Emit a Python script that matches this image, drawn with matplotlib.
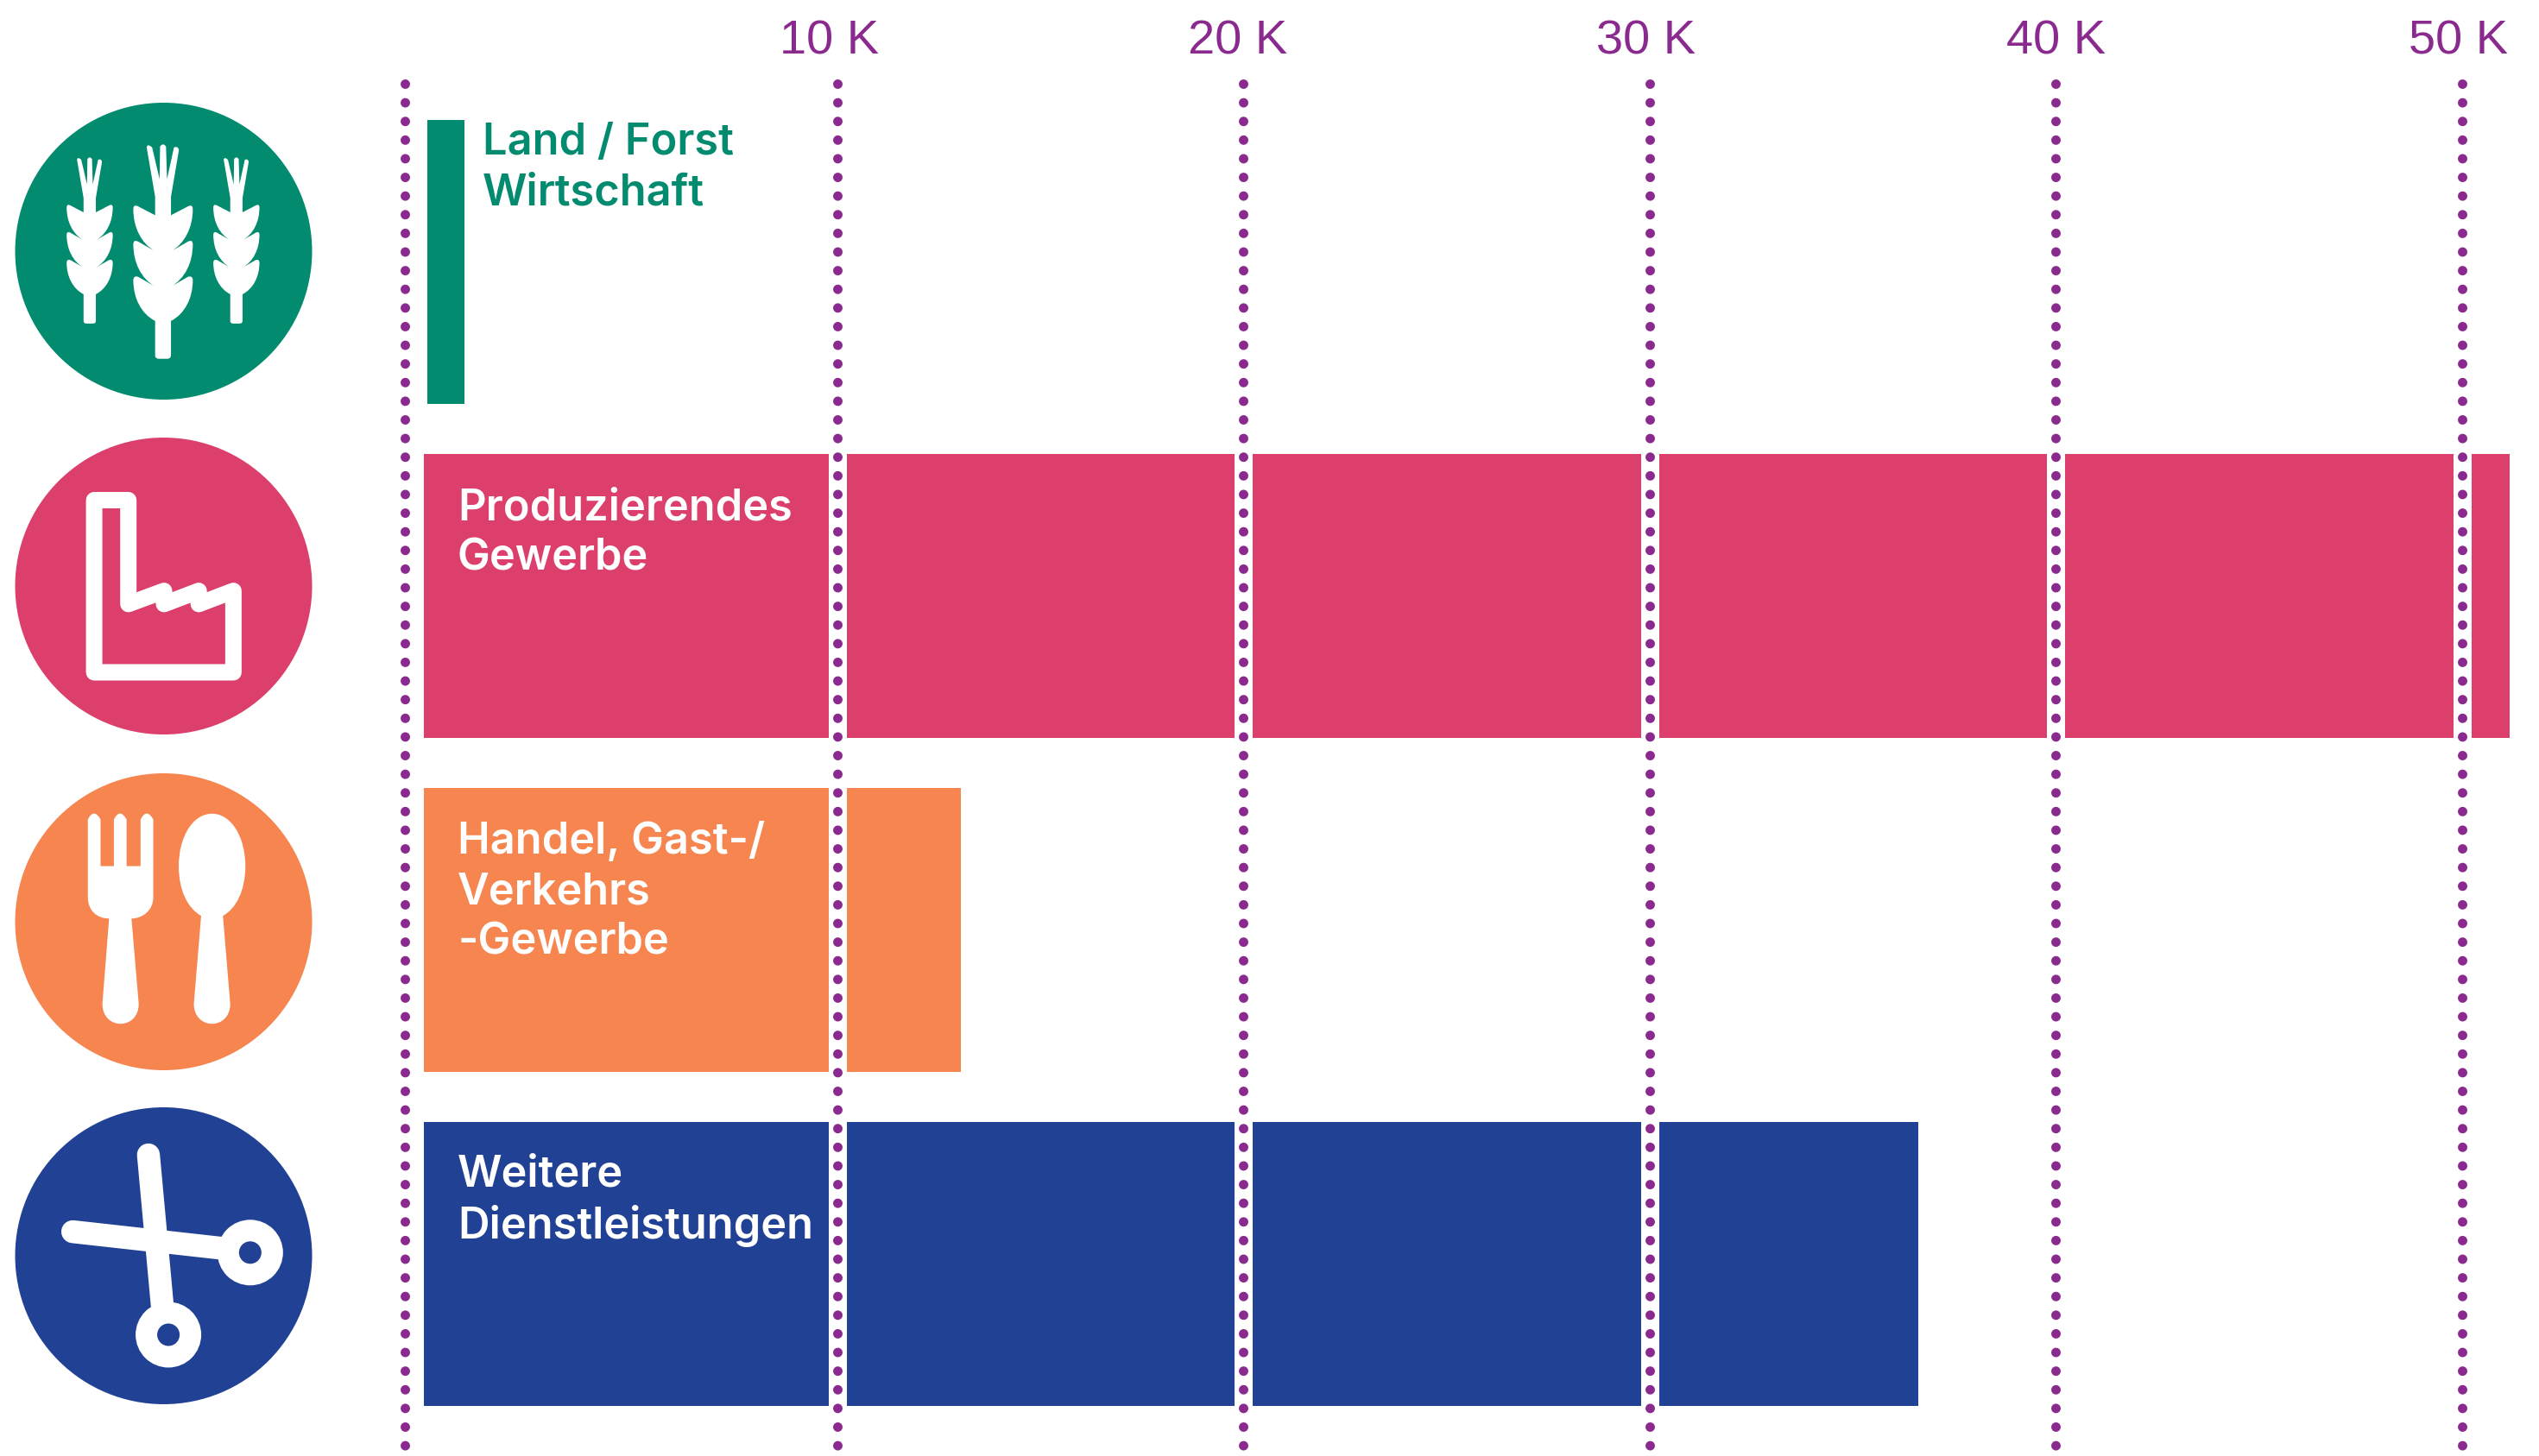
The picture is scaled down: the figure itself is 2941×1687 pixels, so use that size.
import matplotlib
matplotlib.use("Agg")
import matplotlib.pyplot as plt
from matplotlib.path import Path
from matplotlib.patches import PathPatch, Circle
from matplotlib.transforms import ScaledTranslation

# ---- data ----
categories = ["Land / Forst\nWirtschaft", "Produzierendes\nGewerbe",
              "Handel, Gast-/\nVerkehrs\n-Gewerbe", "Weitere\nDienstleistungen"]
bar_starts = [-106, -190, -190, -190]
bar_ends = [819, 51185, 13035, 36620]
bar_colors = ["#038B6F", "#DC3F6C", "#F6854F", "#214195"]
tick_values = [10000, 20000, 30000, 40000, 50000]
tick_labels = ["10 K", "20 K", "30 K", "40 K", "50 K"]
baseline_marker = -650

PURPLE = "#8B2A8E"
W, H = 2941, 1687
DPI = 100
PT = 72 / DPI

fig = plt.figure(figsize=(W / DPI, H / DPI), dpi=DPI, facecolor="white")
AX_TOP = 97
ax = fig.add_axes([0, 0, 1, (H - AX_TOP) / H])
ax.patch.set_alpha(0)
for s in ax.spines.values():
    s.set_visible(False)

PX_PER_UNIT = 47.04 / 1000
ZERO_PX = 499.6
ax.set_xlim((0 - ZERO_PX) / PX_PER_UNIT, (W - ZERO_PX) / PX_PER_UNIT)
ax.set_ylim((H - 303.5) / 387, (AX_TOP - 303.5) / 387)

# bars
ax.barh(range(4), [e - s for s, e in zip(bar_starts, bar_ends)], left=bar_starts,
        height=329 / 387, color=bar_colors, linewidth=0, zorder=1)

# white gaps and dotted lines
for v in tick_values:
    ax.axvline(v, color="white", lw=21 * PT, zorder=2)
for v in [baseline_marker] + tick_values:
    ax.axvline(v, ymin=1, ymax=0, color=PURPLE, lw=11 * PT, clip_on=False, zorder=3,
               linestyle=(0, (0.001, 21.6 / 11)), dash_capstyle="round")

# ticks
ax.set_yticks([])
ax.xaxis.tick_top()
ax.set_xticks(tick_values)
ax.set_xticklabels(tick_labels, family="Liberation Sans", fontsize=40.3, color=PURPLE)
ax.tick_params(axis="x", length=0, pad=16)
offsets = [-9, -7, -4, 0, -4]
for t, dx in zip(ax.xaxis.get_major_ticks(), offsets):
    t.label2.set_transform(t.label2.get_transform() + ScaledTranslation(dx / DPI, 0, fig.dpi_scale_trans))

# ---- overlay in pixel coordinates: icons and labels inside bars ----
ov = fig.add_axes([0, 0, 1, 1], zorder=5)
ov.set_xlim(0, W)
ov.set_ylim(H, 0)
ov.axis("off")
ov.patch.set_alpha(0)

FONT = dict(family="Inter", fontweight="semibold", fontsize=36.4)
label_pos = [(559, 237), (530, 660.6), (530, 1106), (530, 1435)]
label_cols = [bar_colors[0], "white", "white", "white"]
for txt, (x, y), c in zip(categories, label_pos, label_cols):
    ov.text(x, y, txt, color=c, va="baseline", ha="left", linespacing=1.305, **FONT)

# circles
centers = [(189.5, 291), (189.5, 679), (189.5, 1068), (189.5, 1455)]
for (cx, cy), c in zip(centers, bar_colors):
    ov.add_patch(Circle((cx, cy), 172, facecolor=c, edgecolor="none"))


def mk(x, y, sx, sy, oy):
    return (x / sx, y / sy + oy)


def add_path(segs, conv, **kw):
    verts, codes = [], []
    for seg in segs:
        kind = seg[0]
        pts = [conv(*p) for p in seg[1:]]
        verts += pts
        codes += {"M": [Path.MOVETO], "L": [Path.LINETO], "C": [Path.CURVE4] * 3, "Q": [Path.CURVE3] * 2}[kind]
    verts.append(verts[0])
    codes.append(Path.CLOSEPOLY)
    ov.add_patch(PathPatch(Path(verts, codes), **kw))


# wheat: outline given relative to the stalk axis
def wheat(cx_zoom, scale, bottom_zoom):
    def conv(dx, y):
        return mk(cx_zoom + dx * scale, bottom_zoom - scale * (658 - y), 1.742, 1.96, 80)

    outline = [
        ("M", (16, 650)),
        ("L", (16, 572)),
        ("C", (44, 556), (60, 520), (60, 480)),
        ("Q", (60, 468), (50, 472)),
        ("L", (16, 494)),
        ("C", (44, 476), (60, 440), (60, 398)),
        ("Q", (60, 386), (50, 392)),
        ("L", (16, 414)),
        ("C", (44, 396), (60, 360), (60, 318)),
        ("Q", (60, 306), (50, 312)),
        ("L", (16, 332)),
        ("L", (16, 290)),
        ("L", (32, 184)),
        ("Q", (30, 174), (22, 178)),
        ("L", (8, 250)),
        ("L", (6, 176)),
        ("Q", (0, 166), (-6, 176)),
        ("L", (-7, 250)),
        ("L", (-22, 178)),
        ("Q", (-32, 168), (-33, 178)),
        ("L", (-16, 290)),
        ("L", (-16, 332)),
        ("L", (-50, 312)),
        ("Q", (-60, 306), (-60, 318)),
        ("C", (-60, 360), (-44, 396), (-16, 414)),
        ("L", (-50, 392)),
        ("Q", (-60, 386), (-60, 398)),
        ("C", (-60, 440), (-44, 476), (-16, 494)),
        ("L", (-50, 472)),
        ("Q", (-60, 468), (-60, 480)),
        ("C", (-60, 520), (-44, 556), (-16, 572)),
        ("L", (-16, 650)),
        ("Q", (-16, 658), (-8, 658)),
        ("L", (8, 658)),
        ("Q", (16, 658), (16, 650)),
    ]
    add_path(outline, conv, facecolor="white", edgecolor="none")


wheat(329, 1, 658)
wheat(181, 0.775, 578)
wheat(477, 0.775, 578)

# factory
z1 = lambda x, y: mk(x, y, 1.742, 1.96, 80)
fac = [(190, 979), (259, 979), (259, 1215), (331, 1185), (331, 1215), (401, 1185), (401, 1215),
       (471, 1185), (471, 1370), (190, 1370)]
fac_px = [z1(*p) for p in fac] + [z1(*fac[0])]
ov.add_patch(PathPatch(Path(fac_px, [Path.MOVETO] + [Path.LINETO] * (len(fac) - 1) + [Path.CLOSEPOLY]),
                       facecolor="none", edgecolor="white", lw=19 * PT, joinstyle="round"))

# fork
z2 = lambda x, y: mk(x, y, 1.425, 1.943, 880)
fork = [
    ("M", (145, 135)),
    ("Q", (155, 108), (166, 135)),
    ("L", (166, 240)), ("L", (188, 240)), ("L", (188, 135)),
    ("Q", (198, 108), (209, 135)),
    ("L", (209, 240)), ("L", (232, 240)), ("L", (232, 135)),
    ("Q", (242, 108), (253, 135)),
    ("L", (253, 310)),
    ("C", (253, 340), (235, 358), (217, 358)),
    ("L", (229, 550)),
    ("C", (229, 610), (169, 610), (169, 550)),
    ("L", (180, 358)),
    ("C", (160, 358), (145, 340), (145, 310)),
]
add_path(fork, z2, facecolor="white", edgecolor="none")
spoon = [
    ("M", (350, 122)),
    ("C", (382, 122), (405, 175), (405, 240)),
    ("C", (405, 295), (390, 335), (368, 352)),
    ("L", (380, 550)),
    ("C", (380, 610), (320, 610), (320, 550)),
    ("L", (332, 352)),
    ("C", (310, 335), (295, 295), (295, 240)),
    ("C", (295, 175), (318, 122), (350, 122)),
]
add_path(spoon, z2, facecolor="white", edgecolor="none")

# scissors
for a, b in [((245, 890), (272, 1290)), ((120, 1063), (410, 1107))]:
    pa, pb = z2(*a), z2(*b)
    ov.plot([pa[0], pb[0]], [pa[1], pb[1]], color="white", lw=26.5 * PT, solid_capstyle="round")
for p in [(278, 1295), (413, 1110)]:
    c = z2(*p)
    ov.add_patch(Circle(c, 38, facecolor="white", edgecolor="none", zorder=3))
    ov.add_patch(Circle(c, 13, facecolor=bar_colors[3], edgecolor="none", zorder=4))

fig.savefig("out.png", dpi=DPI, facecolor="white")
